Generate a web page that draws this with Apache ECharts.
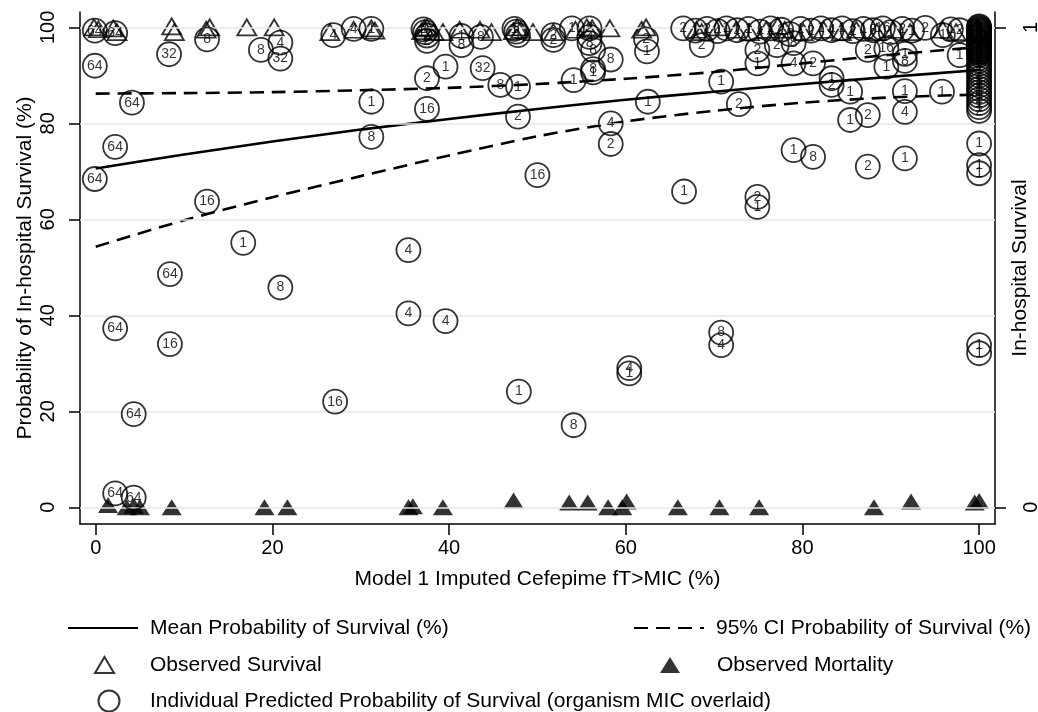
<!DOCTYPE html>
<html>
<head>
<meta charset="utf-8">
<script src="https://cdn.jsdelivr.net/npm/echarts@6/dist/echarts.min.js"></script>
<style>
html,body{margin:0;padding:0;background:#fff;}
#chart{width:1038px;height:712px;}
</style>
</head>
<body>
<div id="chart"></div>
<script>
// ---------- data ----------
var xTicks = [0, 20, 40, 60, 80, 100];
var yTicks = [0, 20, 40, 60, 80, 100];
var yTicks2 = [0, 1];

var curveX = [0, 10, 20, 30, 40, 50, 60, 70, 80, 90, 100];
var meanY  = [70.6, 73.5, 76.2, 78.7, 80.9, 83.0, 84.9, 86.6, 88.2, 89.7, 91.1];
var upperY = [86.2, 86.3, 86.5, 86.9, 87.4, 88.2, 89.3, 90.7, 92.5, 94.3, 95.9];
var lowerY = [54.3, 59.8, 64.6, 69.0, 73.3, 77.3, 80.4, 82.6, 84.3, 85.4, 86.0];

// individual predicted probability of survival (x, y %, organism MIC)
var predX = [
  -0.1, 2.2, -0.1, 4.1, 2.2, -0.1, 2.2, 4.3, 2.2, 4.3,
  8.4, 8.4, 8.3, 12.6, 12.6, 16.7, 18.7, 20.9, 20.9, 20.9,
  26.9, 27.1, 29.2, 31.2, 31.2, 31.2, 35.4, 35.4, 37.1, 37.3,
  37.5, 37.5, 37.5, 37.5, 39.6, 39.6, 41.4, 41.4, 43.6, 43.8,
  45.8, 47.4, 47.6, 47.8, 47.8, 47.8, 47.9, 50.0, 51.8, 51.8,
  53.9, 54.1, 54.1, 55.9, 55.9, 55.9, 56.3, 56.3, 56.3, 58.3,
  58.3, 58.3, 60.4, 60.4, 62.3, 62.4, 62.5, 66.6, 68.6, 70.8,
  70.8, 70.8, 72.8, 74.9, 74.9, 74.9, 74.9, 77.1, 79.0, 79.0,
  79.0, 81.2, 81.2, 83.3, 83.3, 85.4, 85.4, 87.4, 87.4, 87.4,
  89.5, 89.5, 91.6, 91.6, 91.6, 91.6, 91.6, 95.8, 97.8,
  66.5, 67.9, 69.2, 70.4, 71.4, 72.6, 73.9, 75.2, 76.4, 77.6,
  78.6, 79.8, 81.0, 82.1, 83.3, 84.5, 85.7, 86.9, 88.0, 89.1,
  90.0, 91.3, 92.4, 93.9, 95.9, 96.8, 97.8,
  100, 100, 100, 100, 100, 100, 100, 100, 100, 100,
  100, 100, 100, 100, 100, 100, 100, 100, 100, 100,
  100, 100, 100, 100, 100, 100, 100, 100, 100, 100,
  100, 100, 100, 100, 100, 100, 100, 100, 100, 100,
  100, 100, 100, 100, 100, 100, 100, 100, 100, 100,
  100, 100
];
var predY = [
  99.3, 98.8, 92.0, 84.3, 75.1, 68.4, 37.3, 19.4, 2.9, 2.0,
  48.6, 34.0, 94.4, 97.5, 63.7, 55.1, 95.3, 96.8, 93.5, 45.8,
  98.4, 22.0, 99.7, 99.7, 84.5, 77.2, 53.6, 40.4, 99.6, 99.0,
  98.3, 97.2, 89.4, 83.0, 91.8, 38.8, 98.2, 96.3, 98.0, 91.5,
  88.0, 99.7, 99.1, 98.4, 87.6, 81.4, 24.1, 69.2, 98.4, 97.4,
  99.8, 89.0, 17.1, 99.8, 98.0, 96.7, 95.3, 91.3, 90.6, 93.3,
  80.0, 75.7, 29.0, 27.9, 97.5, 95.0, 84.5, 65.8, 96.3, 88.7,
  36.4, 33.8, 84.0, 95.3, 92.5, 64.7, 62.6, 96.3, 96.7, 92.5,
  74.4, 92.5, 73.0, 89.4, 88.0, 86.6, 80.7, 81.7, 71.0, 95.3,
  95.6, 91.8, 94.5, 93.0, 86.7, 82.4, 72.7, 86.6, 94.2,
  99.8, 99.3, 99.7, 99.2, 99.8, 99.4, 99.7, 99.1, 99.8, 99.5,
  98.6, 99.7, 99.3, 99.8, 99.4, 99.8, 99.2, 99.7, 99.4, 99.8,
  99.0, 99.7, 99.3, 99.9, 98.4, 99.6, 99.4,
  100.2, 100.0, 99.8, 99.6, 99.4, 99.2, 99.0, 98.8, 98.6, 98.4,
  98.2, 98.0, 97.8, 97.6, 97.4, 97.2, 97.0, 96.8, 96.6, 96.4,
  96.2, 96.0, 95.8, 95.6, 95.4, 95.2, 95.0, 94.8, 94.6, 94.2,
  93.6, 93.0, 92.4, 91.8, 91.2, 90.6, 90.0, 89.3, 88.6, 87.9,
  87.2, 86.5, 85.8, 85.0, 84.2, 83.4, 82.6, 75.8, 71.3, 69.6,
  33.8, 32.1
];
var predMIC = [
  64, 64, 64, 64, 64, 64, 64, 64, 64, 64,
  64, 16, 32, 8, 16, 1, 8, 4, 32, 8,
  4, 16, 4, 1, 1, 8, 4, 4, 2, 16,
  2, 2, 2, 16, 1, 4, 1, 8, 8, 32,
  8, 1, 2, 1, 1, 2, 1, 16, 2, 2,
  1, 1, 8, 2, 4, 8, 8, 8, 1, 8,
  4, 2, 4, 1, 2, 1, 1, 1, 2, 1,
  8, 4, 2, 2, 1, 2, 1, 2, 8, 4,
  1, 2, 8, 1, 2, 1, 1, 2, 2, 2,
  16, 1, 1, 8, 1, 4, 1, 1, 1,
  2, 1, 2, 4, 1, 2, 1, 4, 1, 2,
  8, 1, 2, 1, 4, 1, 2, 1, 8, 16,
  1, 2, 1, 2, 1, 1, 2,
  1, 2, 1, 8, 1, 2, 4, 1, 1, 2,
  8, 1, 1, 2, 1, 4, 1, 1, 8, 1,
  2, 1, 1, 2, 1, 1, 4, 1, 2, 1,
  1, 8, 1, 1, 4, 1, 2, 1, 1, 2,
  1, 8, 1, 2, 1, 1, 2, 1, 1, 1,
  1, 1
];

// observed survival (right axis = 1)
var survX = [-0.2, 0.3, 2.0, 2.4, 8.6, 8.9, 12.5, 12.9, 17.1, 20.2,
  26.5, 29.2, 31.2, 31.6, 36.9, 37.2, 37.5, 38.3, 39.3, 41.2,
  43.5, 44.8, 47.3, 47.7, 48.1, 49.5, 51.8, 54.3, 55.6, 56.2,
  58.2, 61.8, 62.3, 68.0, 68.6, 70.5, 72.5, 74.0, 75.9, 77.2,
  78.0, 80.1, 82.4, 84.4, 86.1, 88.4, 90.3, 92.2, 95.9, 97.4,
  99.8, 100];
var survY = [1.0, 0.996, 0.998, 0.99, 1.002, 0.99, 0.995, 1.0, 1.0, 1.0,
  0.99, 0.995, 0.998, 0.993, 0.992, 0.998, 1.0, 0.99, 0.99, 0.995,
  0.995, 0.99, 0.992, 1.0, 0.995, 0.99, 0.99, 0.995, 1.0, 0.998,
  0.998, 0.995, 1.0, 0.995, 0.99, 1.0, 0.995, 0.99, 0.995, 1.003,
  0.995, 0.99, 0.995, 0.99, 0.995, 0.99, 0.995, 0.99, 0.995, 0.99,
  1.0, 0.995];

// observed mortality (right axis = 0)
var mortX = [1.4, 3.5, 4.3, 5.0, 8.6, 19.1, 21.7, 35.4, 35.9, 39.3,
  47.3, 53.6, 55.7, 58.0, 59.6, 60.1, 65.9, 70.6, 75.1, 88.1,
  92.3, 99.5, 100.0];
var mortY = [0.005, 0, 0.003, 0, 0, 0, 0, 0, 0.002, 0,
  0.014, 0.01, 0.01, 0, 0, 0.012, 0, 0, 0, 0,
  0.012, 0.01, 0.013];

var NAME_MEAN = 'Mean Probability of Survival (%)';
var NAME_CI = '95% CI Probability of Survival (%)';
var NAME_SURV = 'Observed Survival';
var NAME_MORT = 'Observed Mortality';
var NAME_PRED = 'Individual Predicted Probability of Survival (organism MIC overlaid)';

// ---------- chart ----------
var FONT = 'Liberation Sans, Arial, Helvetica, sans-serif';
var chart = echarts.init(document.getElementById('chart'));

function zip(a, b) { return a.map(function (v, i) { return [v, b[i]]; }); }
function legendBox(name, left, top, w, h, pad, hideSymbol) {
  var o = {
    data: [name], left: left, top: top, orient: 'horizontal', padding: 0,
    itemWidth: w, itemHeight: h, selectedMode: false,
    textStyle: { fontFamily: FONT, fontSize: 21, color: '#000', lineHeight: 24, padding: [0, 0, 0, pad] }
  };
  if (hideSymbol) {
    o.itemStyle = { opacity: 0, color: 'rgba(0,0,0,0)', borderWidth: 0 };
  }
  return o;
}

var option = {
  animation: false,
  backgroundColor: '#fff',
  textStyle: { fontFamily: FONT },
  grid: { left: 80, right: 43, top: 12, bottom: 188, containLabel: false, outerBoundsMode: 'none' },
  legend: [
    legendBox(NAME_MEAN, 67, 616, 70, 14, 7, true),
    legendBox(NAME_CI, 633, 616, 70, 14, 7, true),
    legendBox(NAME_SURV, 94, 653, 19, 16, 31),
    legendBox(NAME_MORT, 660, 653, 20, 16, 32),
    legendBox(NAME_PRED, 97.5, 689, 21, 21, 25.5)
  ],
  xAxis: {
    type: 'value', min: -1.78, max: 101.8,
    name: 'Model 1 Imputed Cefepime fT>MIC (%)', nameLocation: 'middle', nameGap: 45,
    nameMoveOverlap: false,
    nameTextStyle: { fontSize: 21, color: '#000', fontFamily: FONT },
    axisLine: { show: true, onZero: false, lineStyle: { color: '#000', width: 1.5 } },
    axisTick: { show: true, length: 11, customValues: xTicks, lineStyle: { color: '#000', width: 1.5 } },
    axisLabel: { customValues: xTicks, fontSize: 20, color: '#000', margin: 14, fontFamily: FONT },
    splitLine: { show: false }
  },
  yAxis: [
    {
      type: 'value', min: -3.48, max: 103.2, position: 'left',
      name: 'Probability of In-hospital Survival (%)', nameLocation: 'middle', nameGap: 44,
      nameMoveOverlap: false,
      nameTextStyle: { fontSize: 21, color: '#000', fontFamily: FONT },
      axisLine: { show: true, onZero: false, lineStyle: { color: '#000', width: 1.5 } },
      axisTick: { show: true, length: 11, customValues: yTicks, lineStyle: { color: '#000', width: 1.5 } },
      axisLabel: { customValues: yTicks, rotate: 90, fontSize: 20, color: '#000', margin: 22, fontFamily: FONT },
      splitLine: { show: false }
    },
    {
      type: 'value', min: -0.0348, max: 1.032, position: 'right',
      name: 'In-hospital Survival', nameLocation: 'middle', nameGap: 15,
      nameMoveOverlap: false,
      nameTextStyle: { fontSize: 21, color: '#000', fontFamily: FONT },
      axisLine: { show: true, onZero: false, lineStyle: { color: '#000', width: 1.5 } },
      axisTick: { show: true, length: 11, customValues: yTicks2, lineStyle: { color: '#000', width: 1.5 } },
      axisLabel: { customValues: yTicks2, rotate: 90, fontSize: 20, color: '#000', margin: 26, fontFamily: FONT },
      splitLine: { show: false }
    }
  ],
  series: [
    {
      name: '__grid', type: 'line', data: [], silent: true, z: 0,
      markLine: {
        silent: true, symbol: ['none', 'none'], label: { show: false },
        lineStyle: { color: '#e6e6e6', width: 1.6, type: 'solid' },
        data: yTicks.map(function (v) { return { yAxis: v }; })
      }
    },
    {
      name: NAME_MEAN, type: 'line', data: zip(curveX, meanY), symbol: 'none', showSymbol: false, smooth: 0.3,
      lineStyle: { color: '#000', width: 2.6 }, itemStyle: { color: '#000' }, z: 3
    },
    {
      name: NAME_CI, type: 'line', data: zip(curveX, upperY), symbol: 'none', showSymbol: false, smooth: 0.3,
      lineStyle: { color: '#000', width: 2.6, type: [14, 8] }, itemStyle: { color: '#000' }, z: 3
    },
    {
      name: NAME_CI, type: 'line', data: zip(curveX, lowerY), symbol: 'none', showSymbol: false, smooth: 0.3,
      lineStyle: { color: '#000', width: 2.6, type: [14, 8] }, itemStyle: { color: '#000' }, z: 3
    },
    {
      name: NAME_SURV, type: 'scatter', yAxisIndex: 1, data: zip(survX, survY),
      symbol: 'triangle', symbolSize: [19, 16],
      itemStyle: { color: 'rgba(255,255,255,0)', borderColor: '#000', borderWidth: 1.8 }, z: 4
    },
    {
      name: NAME_MORT, type: 'scatter', yAxisIndex: 1, data: zip(mortX, mortY),
      symbol: 'triangle', symbolSize: [20, 16],
      itemStyle: { color: '#000', borderColor: '#000', borderWidth: 0 }, z: 4
    },
    {
      name: NAME_PRED, type: 'scatter',
      data: predX.map(function (x, i) { return [x, predY[i], predMIC[i]]; }),
      symbol: 'circle', symbolSize: 24,
      itemStyle: { color: 'rgba(255,255,255,0)', borderColor: '#000', borderWidth: 1.8 },
      label: {
        show: true, position: 'inside', color: '#000', fontSize: 14, fontFamily: FONT,
        formatter: function (p) { return String(p.value[2]); }
      },
      z: 5
    }
  ]
};
chart.setOption(option);
</script>
</body>
</html>
